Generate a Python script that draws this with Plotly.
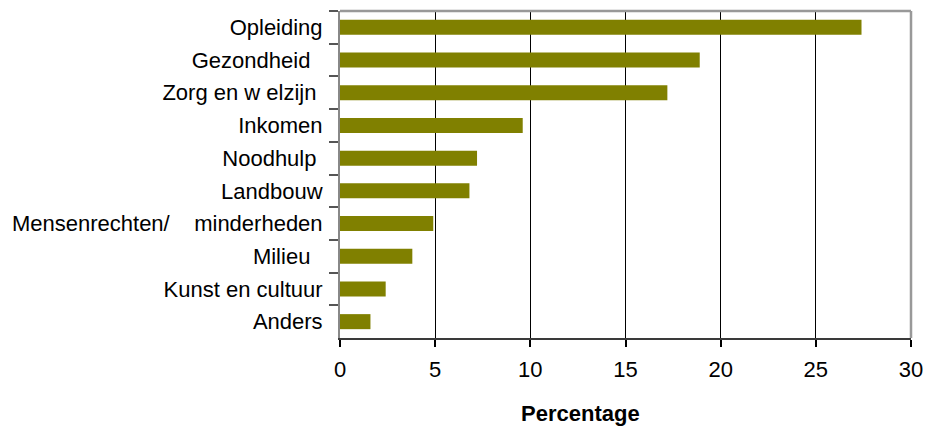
import plotly.graph_objects as go

categories = ["Opleiding", "Gezondheid  ", "Zorg en w elzijn ", "Inkomen", "Noodhulp ",
              "Landbouw", "Mensenrechten/    minderheden", "Milieu  ", "Kunst en cultuur", "Anders"]
percentages = [27.4, 18.9, 17.2, 9.6, 7.2, 6.8, 4.9, 3.8, 2.4, 1.6]
x_ticks = [0, 5, 10, 15, 20, 25, 30]

FONT = "Liberation Sans, Arial, sans-serif"

fig = go.Figure(go.Bar(
    y=categories, x=percentages, orientation="h",
    marker=dict(color="#808000", line=dict(width=0)),
    width=0.46,
))

fig.update_layout(
    width=930, height=428,
    margin=dict(l=340, r=19, t=11, b=90, autoexpand=False),
    paper_bgcolor="white", plot_bgcolor="white",
    showlegend=False,
    font=dict(family=FONT, color="black"),
    xaxis=dict(
        range=[0, 30], tickvals=x_ticks, ticks="outside", ticklen=7, tickcolor="black",
        tickwidth=1.5, showgrid=True, gridcolor="black", gridwidth=1, zeroline=False,
        showline=True, linecolor="#3a3a3a", linewidth=2, automargin=False,
        tickfont=dict(size=22, family=FONT), ticklabelstandoff=4,
    ),
    yaxis=dict(
        autorange=False, range=[9.5, -0.5], ticks="outside", ticklen=9,
        tickcolor="#555555", tickwidth=1.5, showgrid=False, zeroline=False,
        showline=True, linecolor="#888888", linewidth=2, automargin=False,
        tickson="boundaries",
        tickfont=dict(size=22, family=FONT), ticklabelstandoff=11,
    ),
    shapes=[
        dict(type="line", xref="paper", yref="paper", x0=0, x1=1, y0=1, y1=1,
             line=dict(color="#999999", width=2.5)),
        dict(type="line", xref="paper", yref="paper", x0=1, x1=1, y0=0, y1=1,
             line=dict(color="#999999", width=2.5)),
    ],
    annotations=[dict(
        text="<b>Percentage</b>", xref="paper", yref="paper",
        x=0.422, y=-0.23, xanchor="center", yanchor="middle", showarrow=False,
        font=dict(size=22, family=FONT, color="black"),
    )],
)

fig.write_html(
    "out.html",
    config={"displayModeBar": False},
    post_script="document.body.style.margin='0';document.body.style.overflow='hidden';",
)
